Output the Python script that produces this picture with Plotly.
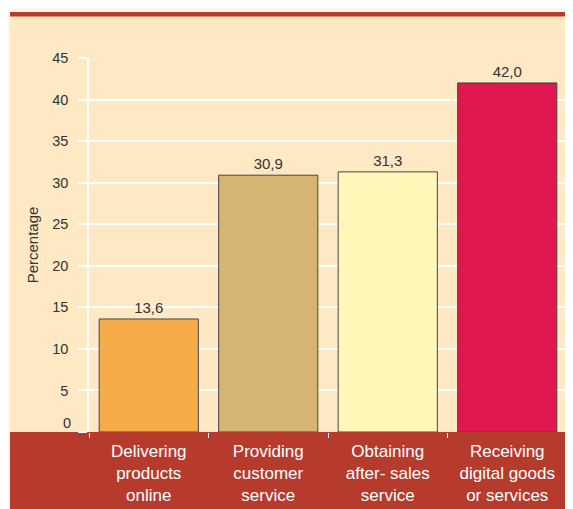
import plotly.graph_objects as go

categories = ["Delivering<br>products<br>online",
              "Providing<br>customer<br>service",
              "Obtaining<br>after- sales<br>service",
              "Receiving<br>digital goods<br>or services"]
values = [13.6, 30.9, 31.3, 42.0]
bar_colors = ["#F5AC48", "#D6B471", "#FEF7B8", "#E0184F"]
tick_vals = [0, 5, 10, 15, 20, 25, 30, 35, 40, 45]
tick_labels = ["0", "5", "10", "15", "20", "25", "30", "35", "40", "45"]

# the page body adds an 8px margin; lay out in reference coordinates minus 8
OFF = 8
W, H = 573 - OFF, 509 - OFF
L, R, T, B = 89 - OFF, 6, 58 - OFF, 77
pw, ph = W - L - R, H - T - B

def px(x):
    return (x - OFF - L) / pw

def py(y):
    return (H - B - (y - OFF)) / ph

CREAM = "#FEE9C4"
RED = "#B63B2D"
LIGHT = "#FEF5EC"
TXT = "#333333"

fig = go.Figure(go.Bar(
    x=categories, y=values,
    marker=dict(color=bar_colors, line=dict(color="#444444", width=1)),
    texttemplate="%{y:.1f}", textposition="outside",
    textfont=dict(size=15, color=TXT), cliponaxis=False,
    hoverinfo="skip",
))

shapes = [
    dict(type="rect", xref="paper", yref="paper", layer="below",
         x0=px(10), x1=px(600), y0=py(16), y1=py(600),
         fillcolor=CREAM, line=dict(width=0)),
    dict(type="rect", xref="paper", yref="paper", layer="below",
         x0=px(10), x1=px(600), y0=py(12), y1=py(16.5),
         fillcolor=RED, line=dict(width=0)),
    dict(type="rect", xref="paper", yref="paper", layer="below",
         x0=px(10), x1=px(600), y0=py(432), y1=py(600),
         fillcolor=RED, line=dict(width=0)),
]

fig.update_layout(
    width=W, height=H,
    margin=dict(l=L, r=R, t=T, b=B, pad=0, autoexpand=False),
    paper_bgcolor=LIGHT, plot_bgcolor=CREAM,
    font=dict(family="Liberation Sans, Arial, sans-serif", color=TXT),
    separators=",.",
    bargap=0.17,
    showlegend=False,
    shapes=shapes,
    xaxis=dict(
        showgrid=False, showline=False, zeroline=False, automargin=False,
        ticks="outside", tickson="boundaries", ticklen=5, tickcolor="white", tickwidth=1,
        tickfont=dict(size=17, color="white"), ticklabelstandoff=7,
        fixedrange=True,
    ),
    yaxis=dict(
        range=[0, 45], tickvals=tick_vals, ticktext=[""] + tick_labels[1:],
        showgrid=True, gridcolor="white", gridwidth=1.5, zeroline=False, automargin=False,
        showline=True, linecolor="white", linewidth=1.5, mirror=True,
        ticks="outside", ticklen=9, tickcolor="white", tickwidth=1.5,
        tickfont=dict(size=14.5, color=TXT), ticklabelstandoff=7,
        title=dict(text="Percentage", font=dict(size=15, color=TXT), standoff=10),
        fixedrange=True,
    ),
    annotations=[dict(
        xref="paper", yref="y", x=0, y=0, text=tick_labels[0], showarrow=False,
        xanchor="right", yanchor="middle", xshift=-16, yshift=9,
        font=dict(size=14.5, color=TXT),
    )],
)

fig.write_html("out.html")
